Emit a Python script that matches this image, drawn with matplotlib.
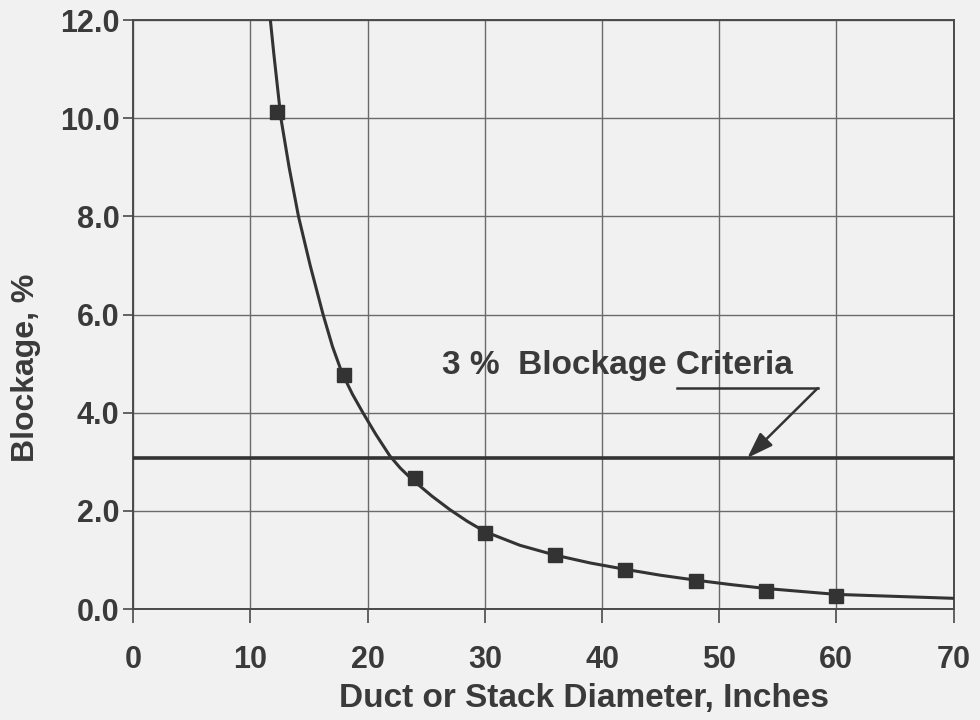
import matplotlib
matplotlib.use("Agg")
import matplotlib.pyplot as plt

# Measured data points
diam = [12.3, 18, 24, 30, 36, 42, 48, 54, 60]
blockage = [10.13, 4.77, 2.67, 1.55, 1.10, 0.79, 0.57, 0.37, 0.27]

# Fitted curve
curve_x = [11.7, 12.0, 12.6, 13.3, 14.1, 15.1, 16.2, 17.0, 17.8, 18.7, 19.6, 20.7,
           21.9, 22.8, 23.8, 25.5, 27, 28.5, 30, 33, 36, 39, 42, 45, 48, 51, 54,
           57, 60, 65, 70]
curve_y = [12.0, 11.3, 10.0, 9.0, 8.0, 7.0, 6.0, 5.35, 4.82, 4.38, 4.0, 3.56,
           3.12, 2.87, 2.64, 2.30, 2.03, 1.79, 1.58, 1.30, 1.10, 0.94, 0.81, 0.69,
           0.59, 0.50, 0.42, 0.36, 0.30, 0.26, 0.22]

criteria = 3.08
xticks = [0, 10, 20, 30, 40, 50, 60, 70]
yticks = [0, 2, 4, 6, 8, 10, 12]
ytick_labels = ["0.0", "2.0", "4.0", "6.0", "8.0", "10.0", "12.0"]

plt.rcParams['font.family'] = ['Liberation Sans', 'DejaVu Sans']
bg = '#f1f1f1'
txt = '#3a3a3a'

fig = plt.figure(figsize=(9.8, 7.2), dpi=100, facecolor=bg)
ax = fig.add_axes([0.136, 0.154, 0.837, 0.818], facecolor=bg)

ax.set_xlim(0, 70)
ax.set_ylim(0, 12)
ax.set_xticks(xticks)
ax.set_yticks(yticks)
ax.set_yticklabels(ytick_labels)
ax.grid(True, color='#6a6a6a', linewidth=1.0)
ax.set_axisbelow(True)
for s in ax.spines.values():
    s.set_color('#4a4a4a')
    s.set_linewidth(1.4)

ax.tick_params(axis='x', length=10, width=1.2, color='#4a4a4a', pad=16,
               labelsize=22, labelcolor=txt)
ax.tick_params(axis='y', length=7, width=1.2, color='#4a4a4a', pad=3,
               labelsize=22, labelcolor=txt)
for lab in ax.get_xticklabels() + ax.get_yticklabels():
    lab.set_fontweight('bold')

ax.plot(curve_x, curve_y, color='#333333', linewidth=2.2, zorder=3, clip_on=True,
        solid_joinstyle='round')
ax.plot(diam, blockage, linestyle='none', marker='s', markersize=10,
        color='#333333', zorder=4)
ax.axhline(criteria, color='#333333', linewidth=2.6, zorder=3)

ax.text(41.3, 4.97, "3 %  Blockage Criteria", ha='center', va='center',
        fontsize=24, fontweight='bold', color=txt)
ax.plot([46.4, 58.4], [4.5, 4.5], color='#333333', linewidth=1.8)
ax.annotate("", xy=(52.4, criteria), xytext=(58.4, 4.5),
            arrowprops=dict(arrowstyle='-|>,head_length=1.6,head_width=0.55',
                            color='#333333', linewidth=1.8, shrinkA=0, shrinkB=0))

ax.set_xlabel("Duct or Stack Diameter, Inches", fontsize=24, fontweight='bold',
              color=txt)
ax.xaxis.set_label_coords(0.55, -0.125)
ax.set_ylabel("Blockage, %", fontsize=23, fontweight='bold', color=txt)
ax.yaxis.set_label_coords(-0.112, 0.41)

fig.savefig("out.png", dpi=100, facecolor=bg)
